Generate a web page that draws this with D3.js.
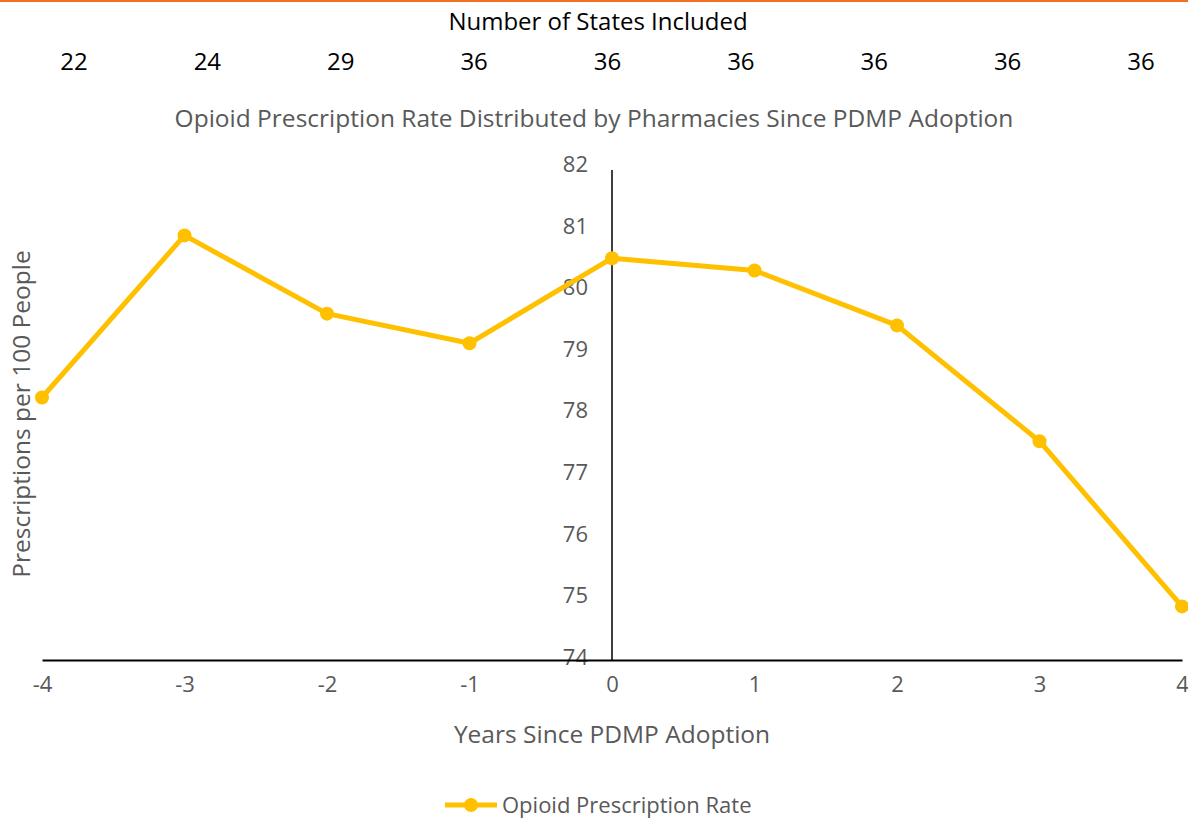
<!DOCTYPE html>
<meta charset="utf-8">
<title>Opioid Prescription Rate</title>
<style>
body { margin: 0; background: #fff; }
text { font-family: "Open Sans", sans-serif; }
.gray { fill: #595959; }
</style>
<body>
<script src="https://d3js.org/d3.v7.min.js"></script>
<script>

// data
var years = [-4, -3, -2, -1, 0, 1, 2, 3, 4];
var rates = [78.26, 80.89, 79.62, 79.14, 80.52, 80.32, 79.43, 77.55, 74.87];
var statesIncluded = ["22", "24", "29", "36", "36", "36", "36", "36", "36"];
var yTicks = [74, 75, 76, 77, 78, 79, 80, 81, 82];

var W = 1188, H = 818;
var gold = "#FFC000";

var svg = d3.select("body").append("svg")
    .attr("width", W)
    .attr("height", H);

// orange rule across the top
svg.append("rect")
    .attr("x", 0).attr("y", 0)
    .attr("width", W).attr("height", 2)
    .style("fill", "#F36F21");

// header: number of states
svg.append("text")
    .attr("x", 598).attr("y", 30)
    .attr("text-anchor", "middle")
    .style("font-size", "24px")
    .style("fill", "#000")
    .text("Number of States Included");

var xStates = d3.scalePoint().domain(d3.range(statesIncluded.length)).range([74, 1141]);
svg.append("g").selectAll("text")
    .data(statesIncluded)
  .enter().append("text")
    .attr("x", function(d, i) { return xStates(i); })
    .attr("y", 70)
    .attr("text-anchor", "middle")
    .style("font-size", "24px")
    .style("fill", "#000")
    .text(function(d) { return d; });

// chart title
svg.append("text")
    .attr("class", "gray")
    .attr("x", 594).attr("y", 127)
    .attr("text-anchor", "middle")
    .style("font-size", "24.5px")
    .text("Opioid Prescription Rate Distributed by Pharmacies Since PDMP Adoption");

// scales
var x = d3.scaleLinear().domain([-4, 4]).range([42, 1182]);
var y = d3.scaleLinear().domain([74, 82]).range([660, 167]);

// y axis (sits at x = 0)
var yAxis = svg.append("g")
    .attr("transform", "translate(" + x(0) + ",0)")
    .call(d3.axisLeft(y).tickValues(yTicks).tickSize(0).tickPadding(24));
yAxis.select(".domain").attr("d", "M0," + (y(82) + 3) + "V" + y(74))
    .style("stroke", "#000").style("stroke-width", 1.5);
yAxis.selectAll("text")
    .attr("class", "gray")
    .attr("dy", "0.2em")
    .style("font-family", "'Open Sans', sans-serif")
    .style("font-size", "22px");

// x axis
var xAxis = svg.append("g")
    .attr("transform", "translate(0," + y(74) + ")")
    .call(d3.axisBottom(x).tickValues(years).tickSize(0).tickPadding(16)
      .tickFormat(function(d) { return d < 0 ? "-" + Math.abs(d) : d; }));
xAxis.select(".domain").style("stroke", "#000").style("stroke-width", 2);
xAxis.selectAll("text")
    .attr("class", "gray")
    .style("font-family", "'Open Sans', sans-serif")
    .style("font-size", "22px");

// axis titles
svg.append("text")
    .attr("class", "gray")
    .attr("x", 612).attr("y", 743)
    .attr("text-anchor", "middle")
    .style("font-size", "24.5px")
    .text("Years Since PDMP Adoption");

svg.append("text")
    .attr("class", "gray")
    .attr("transform", "translate(30,414) rotate(-90)")
    .attr("text-anchor", "middle")
    .style("font-size", "24.5px")
    .text("Prescriptions per 100 People");

// the series
var pts = years.map(function(d, i) { return [d, rates[i]]; });
var line = d3.line()
    .x(function(d) { return x(d[0]); })
    .y(function(d) { return y(d[1]); });

svg.append("path")
    .datum(pts)
    .attr("d", line)
    .style("fill", "none")
    .style("stroke", gold)
    .style("stroke-width", 5)
    .style("stroke-linejoin", "round");

svg.append("g").selectAll("circle")
    .data(pts)
  .enter().append("circle")
    .attr("cx", function(d) { return x(d[0]); })
    .attr("cy", function(d) { return y(d[1]); })
    .attr("r", 7)
    .style("fill", gold);

// legend
var lg = svg.append("g").attr("transform", "translate(445,805)");
lg.append("line")
    .attr("x1", 0).attr("x2", 52)
    .style("stroke", gold).style("stroke-width", 5);
lg.append("circle")
    .attr("cx", 26).attr("r", 7)
    .style("fill", gold);
lg.append("text")
    .attr("class", "gray")
    .attr("x", 57).attr("y", 8)
    .style("font-size", "22px")
    .text("Opioid Prescription Rate");

</script>
</body>
